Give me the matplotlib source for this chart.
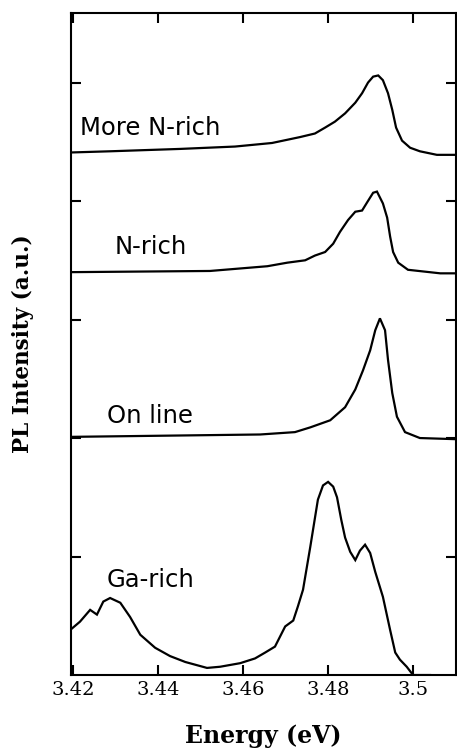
import matplotlib
matplotlib.use("Agg")
import matplotlib.pyplot as plt

# ---- data (energy in eV, intensity in offset arbitrary units) ----
ga_rich_E = [3.4193, 3.4216, 3.4240, 3.4256, 3.4271, 3.4287, 3.4311, 3.4334, 3.4358,
             3.4393, 3.4428, 3.4464, 3.4515, 3.4546, 3.4593, 3.4628, 3.4652, 3.4675,
             3.4699, 3.4718, 3.4729, 3.4741, 3.4758, 3.4767, 3.4776, 3.4788, 3.4800,
             3.4812, 3.4821, 3.4831, 3.4840, 3.4852, 3.4864, 3.4875, 3.4887, 3.4899,
             3.4911, 3.4929, 3.4946, 3.4958, 3.4969, 3.4985, 3.5000, 3.5040]
ga_rich_I = [0.38, 0.45, 0.55, 0.51, 0.62, 0.65, 0.61, 0.49, 0.34,
             0.23, 0.16, 0.11, 0.06, 0.07, 0.10, 0.14, 0.19, 0.24,
             0.41, 0.46, 0.58, 0.72, 1.08, 1.28, 1.48, 1.60, 1.63,
             1.59, 1.50, 1.31, 1.16, 1.04, 0.97, 1.05, 1.10, 1.03,
             0.87, 0.66, 0.38, 0.19, 0.13, 0.07, 0.00, 0.00]

on_line_E = [3.4195, 3.4640, 3.4722, 3.4758, 3.4805, 3.4840, 3.4864, 3.4882, 3.4899,
             3.4911, 3.4922, 3.4934, 3.4941, 3.4951, 3.4962, 3.4981, 3.5016, 3.5104]
on_line_I = [2.01, 2.03, 2.05, 2.09, 2.15, 2.26, 2.41, 2.57, 2.74,
             2.91, 3.01, 2.91, 2.66, 2.38, 2.18, 2.05, 2.00, 1.99]

n_rich_E = [3.4195, 3.4522, 3.4657, 3.4704, 3.4746, 3.4769, 3.4793, 3.4812, 3.4828,
            3.4847, 3.4864, 3.4880, 3.4892, 3.4906, 3.4915, 3.4929, 3.4939, 3.4946,
            3.4953, 3.4965, 3.4988, 3.5064, 3.5104]
n_rich_I = [3.40, 3.41, 3.45, 3.48, 3.50, 3.54, 3.57, 3.64, 3.74,
            3.84, 3.91, 3.92, 3.99, 4.07, 4.08, 3.98, 3.86, 3.70,
            3.57, 3.48, 3.42, 3.39, 3.39]

more_n_rich_E = [3.4195, 3.4287, 3.4452, 3.4581, 3.4668, 3.4734, 3.4769, 3.4793, 3.4816,
                 3.4840, 3.4864, 3.4880, 3.4894, 3.4906, 3.4918, 3.4929, 3.4941, 3.4951,
                 3.4960, 3.4974, 3.4993, 3.5016, 3.5056, 3.5104]
more_n_rich_I = [4.41, 4.42, 4.44, 4.46, 4.49, 4.54, 4.57, 4.62, 4.67,
                 4.74, 4.83, 4.91, 5.00, 5.05, 5.06, 5.02, 4.91, 4.77,
                 4.62, 4.51, 4.45, 4.42, 4.39, 4.39]

labels = ["More N-rich", "N-rich", "On line", "Ga-rich"]
x_ticks = [3.42, 3.44, 3.46, 3.48, 3.50]
x_tick_labels = ["3.42", "3.44", "3.46", "3.48", "3.5"]
y_ticks = [1, 2, 3, 4, 5]

fig = plt.figure(figsize=(4.57, 7.56), dpi=100)
ax = fig.add_axes([0.1554, 0.1071, 0.8424, 0.8757])

for E, I in [(more_n_rich_E, more_n_rich_I), (n_rich_E, n_rich_I),
             (on_line_E, on_line_I), (ga_rich_E, ga_rich_I)]:
    ax.plot(E, I, color="black", lw=1.6, solid_joinstyle="miter")

ax.set_xlim(3.4195, 3.5101)
ax.set_ylim(0, 5.587)

ax.set_xticks(x_ticks)
ax.set_xticklabels(x_tick_labels, family="DejaVu Serif", fontsize=14)
ax.set_yticks(y_ticks)
ax.set_yticklabels([])
ax.tick_params(direction="in", length=7, width=1.5, top=True, right=True,
               labelleft=False, pad=4)
for s in ax.spines.values():
    s.set_linewidth(1.5)

ax.set_xlabel("Energy (eV)", family="DejaVu Serif", fontweight="bold", fontsize=17,
              labelpad=18)
ax.set_ylabel("PL Intensity (a.u.)", family="DejaVu Serif", fontweight="bold",
              fontsize=15.5, labelpad=27)

label_pos = [(3.4216, 4.62), (3.4298, 3.61), (3.4279, 2.19), (3.4279, 0.80)]
for txt, (x, y) in zip(labels, label_pos):
    ax.text(x, y, txt, fontsize=17.5, family="DejaVu Sans", va="center", ha="left")

fig.savefig("out.png", dpi=100)
